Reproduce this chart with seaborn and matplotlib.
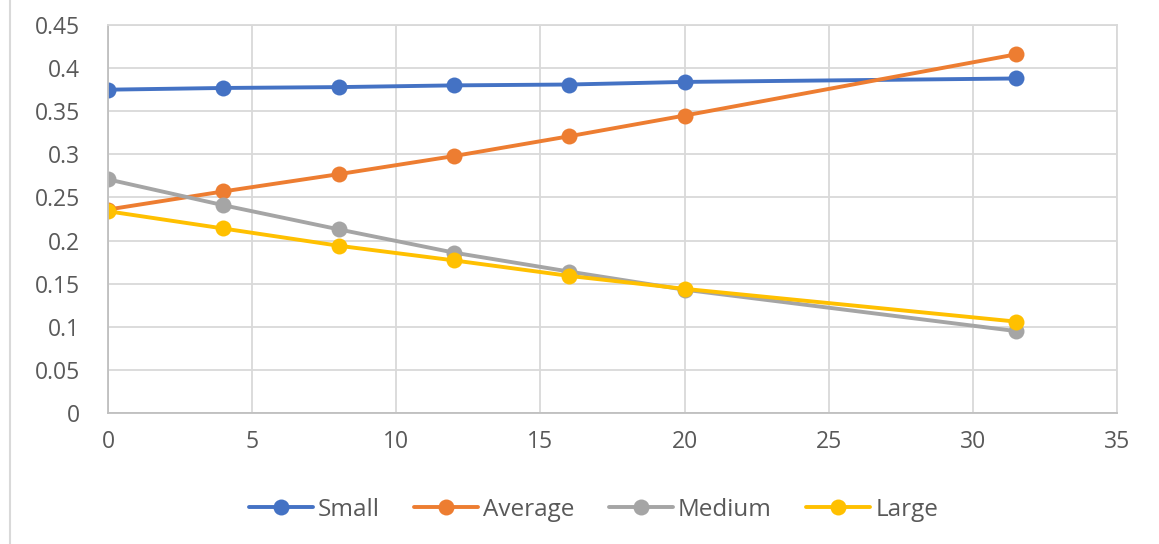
import numpy as np
import pandas as pd
import seaborn as sns
import matplotlib
matplotlib.use("Agg")
import matplotlib.pyplot as plt
from matplotlib.ticker import FuncFormatter, MultipleLocator
from matplotlib.lines import Line2D

# Time points and series values
x_vals = [0, 4, 8, 12, 16, 20, 31.5]
small = [0.375, 0.377, 0.378, 0.380, 0.381, 0.384, 0.388]
average = [0.236, 0.257, 0.277, 0.298, 0.321, 0.345, 0.416]
medium = [0.271, 0.241, 0.213, 0.186, 0.164, 0.143, 0.095]
large = [0.234, 0.214, 0.194, 0.177, 0.159, 0.144, 0.106]
series_names = ["Small", "Average", "Medium", "Large"]
colors = ["#4472C4", "#ED7D31", "#A5A5A5", "#FFC000"]

df = pd.concat(
    [pd.DataFrame({"x": x_vals, "y": vals, "series": name})
     for name, vals in zip(series_names, [small, average, medium, large])],
    ignore_index=True,
)

sns.set_theme(style="whitegrid")
plt.rcParams["font.family"] = ["Open Sans", "DejaVu Sans"]

fig = plt.figure(figsize=(11.59, 5.44), dpi=100)
ax = fig.add_axes([0.0932, 0.2408, 0.8706, 0.7132])

sns.lineplot(
    data=df, x="x", y="y", hue="series", hue_order=series_names,
    palette=colors, marker="o", markersize=11.5, markeredgewidth=0,
    linewidth=2.8, ax=ax, legend=False, sort=False,
)

ax.set_xlim(0, 35)
ax.set_ylim(0, 0.45)
ax.xaxis.set_major_locator(MultipleLocator(5))
ax.yaxis.set_major_locator(MultipleLocator(0.05))
ax.yaxis.set_major_formatter(FuncFormatter(lambda v, p: f"{round(v, 2):g}"))
ax.set_xlabel("")
ax.set_ylabel("")
ax.grid(True, color="#D9D9D9", linewidth=1.3)
for side, sp in ax.spines.items():
    sp.set_color("#D9D9D9")
    sp.set_linewidth(1.3)
ax.spines["left"].set_color("#BFBFBF")
ax.spines["bottom"].set_color("#BFBFBF")
ax.tick_params(axis="both", labelsize=16.5, colors="#595959", length=0)
ax.tick_params(axis="x", pad=12)
ax.tick_params(axis="y", pad=20)

handles = [Line2D([], [], color=c, marker="o", markersize=11.5, markeredgewidth=0,
                  linewidth=2.8) for c in colors]
fig.legend(handles, series_names, loc="center", bbox_to_anchor=(0.512, 0.063),
           ncol=4, frameon=False, fontsize=17.5, labelcolor="#595959",
           handlelength=2.65, handletextpad=0.2, columnspacing=1.4)

# chart-area border on the left edge
fig.add_artist(Line2D([10 / 1159, 10 / 1159], [0, 1], color="#D9D9D9", linewidth=1.5))

fig.savefig("out.png", dpi=100, facecolor="white")
